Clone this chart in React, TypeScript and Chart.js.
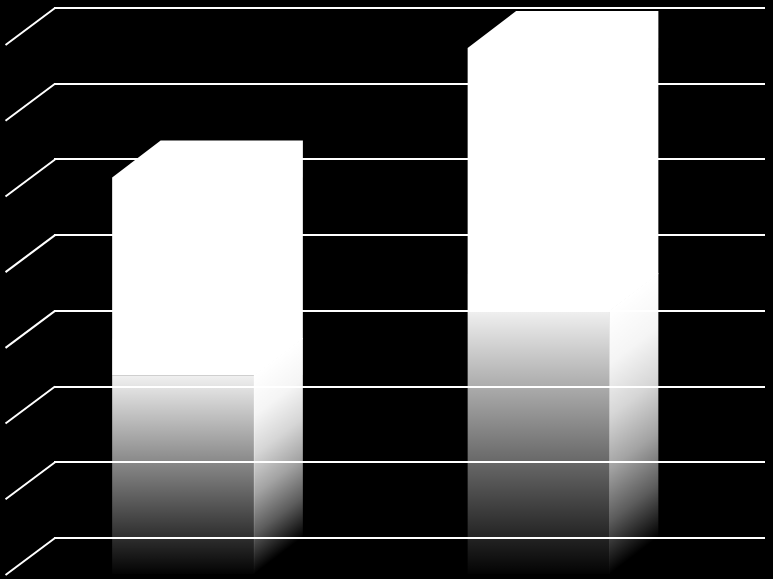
import { useEffect, useRef } from "react"
import { Chart, registerables } from "chart.js"

Chart.register(...registerables)

// data (no axis labels are shown in the original)
const categories = ["Category 1", "Category 2"]
const values = [52.5, 69.6]
const yMin = 0
const yMax = 70
const yStep = 10

// 3D depth offset of the front plane relative to the back wall
const DEPTH_X = -48.5
const DEPTH_Y = 37

const bar3d = {
  id: "bar3d",
  // diagonal floor/wall lines for each horizontal gridline
  beforeDatasetsDraw(chart) {
    const { ctx, chartArea } = chart
    const yScale = chart.scales.y
    ctx.save()
    ctx.strokeStyle = "#ffffff"
    ctx.lineWidth = 2
    yScale.ticks.forEach((t) => {
      const py = yScale.getPixelForValue(t.value)
      ctx.beginPath()
      ctx.moveTo(chartArea.left + 1, py)
      ctx.lineTo(chartArea.left + DEPTH_X, py + DEPTH_Y)
      ctx.stroke()
    })
    ctx.restore()
  },
  afterDatasetsDraw(chart) {
    const { ctx } = chart
    const meta = chart.getDatasetMeta(0)
    meta.data.forEach((bar) => {
      const { x, y, base, width } = bar.getProps(["x", "y", "base", "width"], true)
      const left = x - width / 2
      const right = x + width / 2
      const h = base - y
      const half = y + h * 0.5

      ctx.save()

      // front face: solid white top half, fading out towards the floor
      const fg = ctx.createLinearGradient(0, y + DEPTH_Y, 0, base + DEPTH_Y)
      fg.addColorStop(0, "rgba(255,255,255,1)")
      fg.addColorStop(0.5, "rgba(255,255,255,1)")
      fg.addColorStop(0.5, "rgba(255,255,255,0.94)")
      fg.addColorStop(1, "rgba(255,255,255,0.01)")
      ctx.fillStyle = fg
      ctx.fillRect(left + DEPTH_X, half + DEPTH_Y, width, base - half)

      // side face, gradient skewed along the depth direction
      ctx.save()
      ctx.transform(DEPTH_X, DEPTH_Y, 0, 1, right, 0)
      const sg = ctx.createLinearGradient(0, y, 0, base)
      sg.addColorStop(0, "rgba(255,255,255,1)")
      sg.addColorStop(0.5, "rgba(255,255,255,1)")
      sg.addColorStop(0.6, "rgba(255,255,255,0.96)")
      sg.addColorStop(0.7, "rgba(255,255,255,0.84)")
      sg.addColorStop(0.8, "rgba(255,255,255,0.64)")
      sg.addColorStop(0.9, "rgba(255,255,255,0.36)")
      sg.addColorStop(1, "rgba(255,255,255,0)")
      ctx.fillStyle = sg
      ctx.fillRect(0, half - 1, 1.01, base - half + 1)
      ctx.restore()

      // opaque upper part (top face + upper halves) as one silhouette
      ctx.fillStyle = "#ffffff"
      ctx.beginPath()
      ctx.moveTo(left + DEPTH_X, y + DEPTH_Y)
      ctx.lineTo(left, y)
      ctx.lineTo(right, y)
      ctx.lineTo(right, half)
      ctx.lineTo(right + DEPTH_X, half + DEPTH_Y)
      ctx.lineTo(left + DEPTH_X, half + DEPTH_Y)
      ctx.closePath()
      ctx.fill()

      ctx.restore()
    })
  },
}

export function BarChart3D() {
  const chartRef = useRef(null)
  const chartInstance = useRef(null)

  useEffect(() => {
    if (!chartRef.current) return
    if (chartInstance.current) chartInstance.current.destroy()

    const ctx = chartRef.current.getContext("2d")
    chartInstance.current = new Chart(ctx, {
      type: "bar",
      data: {
        labels: categories,
        datasets: [
          {
            data: values,
            backgroundColor: "rgba(0,0,0,0)",
            borderWidth: 0,
            categoryPercentage: 0.8,
            barPercentage: 0.5,
          },
        ],
      },
      options: {
        responsive: false,
        animation: false,
        events: [],
        layout: {
          padding: { left: 54, right: 8, top: 8, bottom: 41 },
        },
        plugins: {
          legend: { display: false },
          tooltip: { enabled: false },
        },
        scales: {
          x: {
            display: false,
          },
          y: {
            min: yMin,
            max: yMax,
            ticks: { display: false, stepSize: yStep },
            border: { display: false },
            grid: {
              color: "#ffffff",
              lineWidth: 2,
              drawTicks: false,
            },
          },
        },
      },
      plugins: [bar3d],
    })

    return () => {
      if (chartInstance.current) {
        chartInstance.current.destroy()
        chartInstance.current = null
      }
    }
  }, [])

  return (
    <div style={{ width: 773, height: 579, background: "#000" }}>
      <canvas ref={chartRef} width={773} height={579} style={{ display: "block" }} />
    </div>
  )
}

export default function App() {
  useEffect(() => {
    document.body.style.margin = "0"
    document.body.style.background = "#000"
  }, [])
  return <BarChart3D />
}
